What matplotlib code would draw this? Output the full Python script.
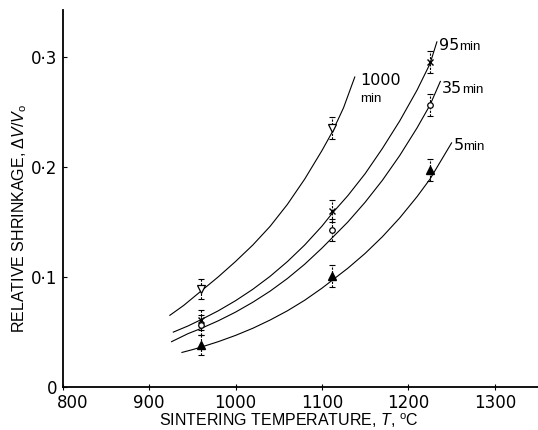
import matplotlib
matplotlib.use("Agg")
import matplotlib.pyplot as plt
from matplotlib.transforms import ScaledTranslation

# ---- data ----
temps_1000 = [960, 1112]
shrink_1000 = [0.0887, 0.2353]
err_1000 = [0.009, 0.010]

temps = [960, 1112, 1225]
shrink_95 = [0.0607, 0.160, 0.296]
err_95 = [0.009, 0.010, 0.010]
shrink_35 = [0.0562, 0.1427, 0.2566]
err_35 = [0.009, 0.010, 0.010]
shrink_5 = [0.038, 0.1012, 0.1974]
err_5 = [0.009, 0.010, 0.010]

# fitted curves
curve_T_1000 = [924, 940, 960, 980, 1000, 1020, 1040, 1060, 1080, 1100, 1112, 1125, 1138]
curve_v_1000 = [0.065, 0.074, 0.087, 0.100, 0.114, 0.129, 0.146, 0.166, 0.189, 0.215,
                0.232, 0.254, 0.282]
curve_T_95 = [928, 945, 960, 980, 1000, 1020, 1040, 1060, 1080, 1100, 1112, 1130, 1150,
              1170, 1190, 1210, 1225, 1233]
curve_v_95 = [0.0497, 0.0553, 0.061, 0.0691, 0.0783, 0.0887, 0.1005, 0.1139, 0.129,
              0.1462, 0.158, 0.174, 0.194, 0.217, 0.242, 0.270, 0.294, 0.314]
curve_T_35 = [926, 945, 960, 980, 1000, 1020, 1040, 1060, 1080, 1100, 1112, 1130, 1150,
              1170, 1190, 1210, 1225, 1237]
curve_v_35 = [0.041, 0.0483, 0.053, 0.060, 0.0679, 0.0769, 0.087, 0.0985, 0.1115, 0.1262,
              0.1357, 0.150, 0.168, 0.188, 0.2105, 0.2356, 0.2564, 0.278]
curve_T_5 = [938, 950, 960, 980, 1000, 1020, 1040, 1060, 1080, 1100, 1112, 1130, 1150,
             1170, 1190, 1210, 1225, 1250]
curve_v_5 = [0.0312, 0.0337, 0.036, 0.041, 0.0467, 0.0532, 0.0607, 0.0691, 0.0787, 0.0897,
             0.097, 0.1079, 0.1214, 0.1366, 0.1537, 0.173, 0.189, 0.222]

xticks = [800, 900, 1000, 1100, 1200, 1300]
xtick_labels = ["800", "900", "1000", "1100", "1200", "1300"]
yticks = [0, 0.1, 0.2, 0.3]
ytick_labels = ["0", "0·1", "0·2", "0·3"]

plt.rcParams["mathtext.fontset"] = "custom"
plt.rcParams["mathtext.rm"] = "Liberation Sans"
plt.rcParams["mathtext.it"] = "Liberation Sans:italic"

fig = plt.figure(figsize=(5.38, 4.30), dpi=100)
ax = fig.add_axes([0.1165, 0.1007, 0.8835, 0.876])
ax.set_xlim(800, 1350)
ax.set_ylim(0, 0.343)

for s in ["top", "right"]:
    ax.spines[s].set_visible(False)
for s in ["left", "bottom"]:
    ax.spines[s].set_linewidth(1.3)

lw = 0.8
for T, v in [(curve_T_1000, curve_v_1000), (curve_T_95, curve_v_95),
             (curve_T_35, curve_v_35), (curve_T_5, curve_v_5)]:
    ax.plot(T, v, color="black", lw=lw, zorder=2, solid_joinstyle="round")

def points(x, y, e, **kw):
    eb = ax.errorbar(x, y, yerr=e, fmt="none", ecolor="black", elinewidth=0.8,
                     capsize=2, capthick=0.8, zorder=3)
    eb[2][0].set_linestyle((0, (2, 1.2)))
    ax.plot(x, y, linestyle="none", zorder=4, **kw)

points(temps_1000, shrink_1000, err_1000, marker="v", ms=6, mfc="white",
       mec="black", mew=0.9)
points(temps, shrink_95, err_95, marker="x", ms=4.5, mec="black", mew=1.0)
points(temps, shrink_35, err_35, marker="o", ms=4, mfc="white", mec="black",
       mew=0.9)
points(temps, shrink_5, err_5, marker="^", ms=6, mfc="black", mec="black")

# curve labels
num_kw = dict(fontsize=11.5, family="DejaVu Sans", va="baseline", ha="left")
min_kw = dict(fontsize=9.5, family="Liberation Sans", va="baseline", ha="left")
ax.text(1144, 0.2748, "1000", **num_kw)
ax.text(1144, 0.2596, "min", **min_kw)
ax.text(1235, 0.3066, "95", **num_kw)
ax.text(1259, 0.3066, "min", **min_kw)
ax.text(1239, 0.267, "35", **num_kw)
ax.text(1262, 0.267, "min", **min_kw)
ax.text(1252, 0.2156, "5", **num_kw)
ax.text(1263, 0.2156, "min", **min_kw)

ax.set_xticks(xticks)
ax.set_xticklabels(xtick_labels, fontsize=12, family="DejaVu Sans")
ax.set_yticks(yticks)
ax.set_yticklabels(ytick_labels, fontsize=12, family="DejaVu Sans")
ax.tick_params(axis="x", direction="inout", length=4, width=0.8, pad=3.5)
ax.tick_params(axis="y", direction="in", length=3, width=0.8, pad=4)

lbl0 = ax.xaxis.get_major_ticks()[0].label1
lbl0.set_transform(lbl0.get_transform() + ScaledTranslation(7 / 72, 0, fig.dpi_scale_trans))

ax.set_xlabel(r"SINTERING TEMPERATURE, $T$, $^{\mathrm{o}}$C", fontsize=11.5,
              family="Liberation Sans")
ax.xaxis.set_label_coords(0.476, -0.1043)
ax.xaxis.label.set_va("baseline")
ax.set_ylabel(r"RELATIVE SHRINKAGE, $\Delta V/V_{\mathrm{o}}$", fontsize=11.5,
              family="Liberation Sans")
ax.yaxis.set_label_coords(-0.09, 0.447)
ax.yaxis.label.set_va("center")

fig.savefig("out.png", dpi=100)
